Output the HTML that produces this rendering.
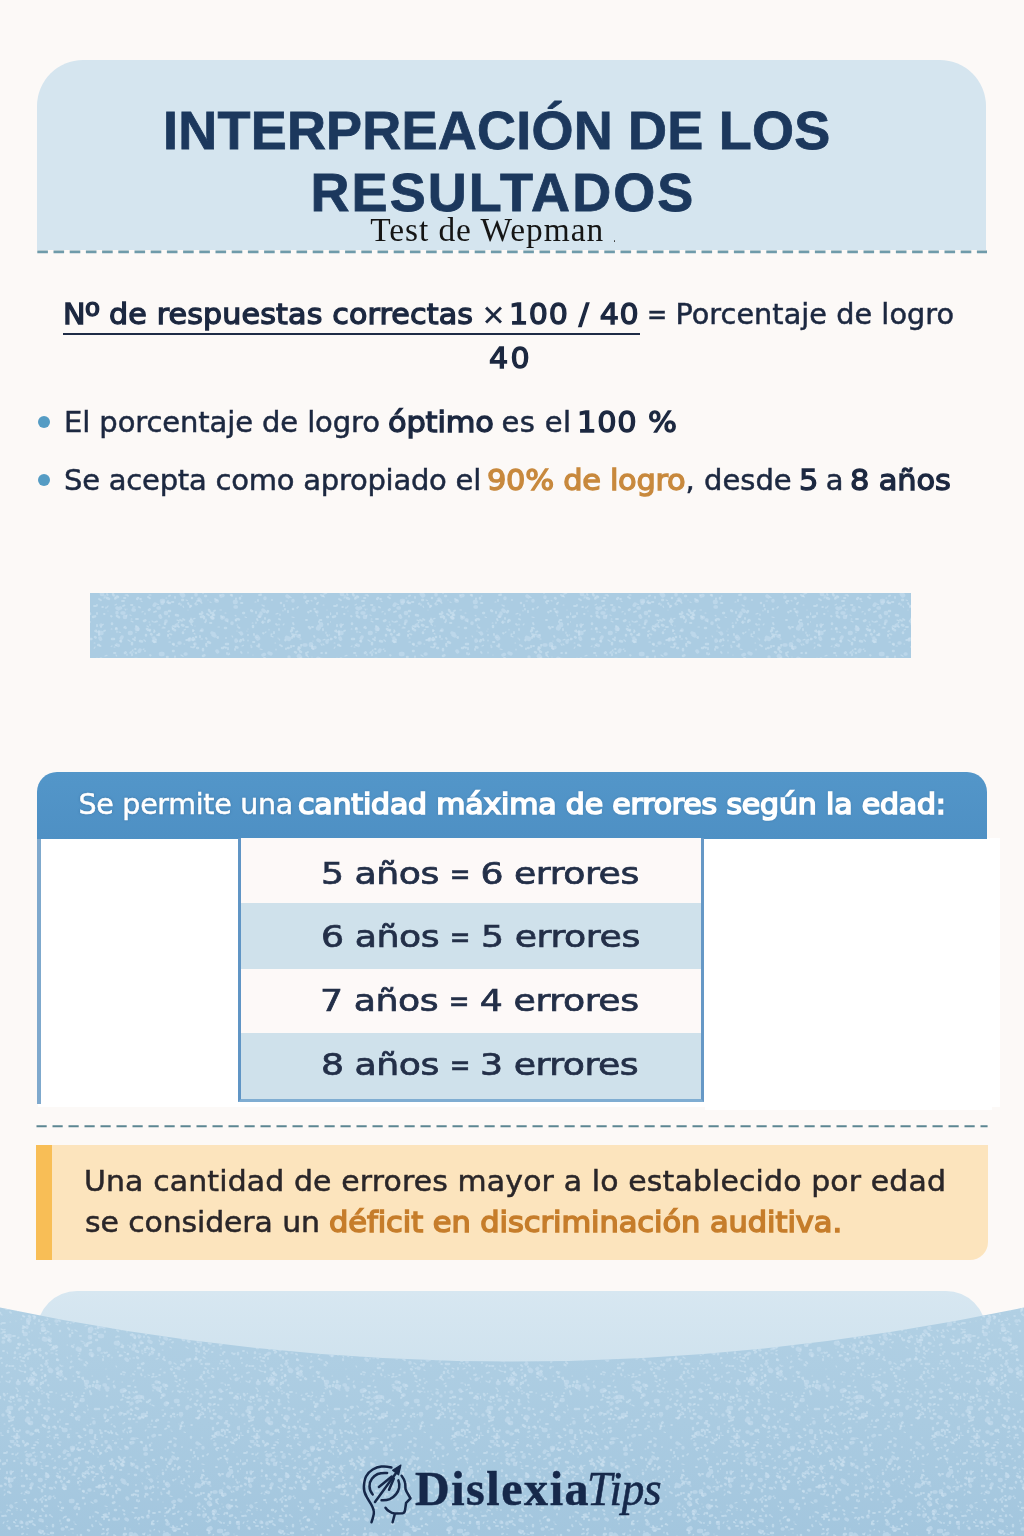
<!DOCTYPE html>
<html lang="es">
<head>
<meta charset="utf-8">
<title>Interpretación de los resultados - Test de Wepman</title>
<style>
*{margin:0;padding:0;box-sizing:border-box}
html,body{width:1024px;height:1536px;overflow:hidden}
body{background:#fcf9f7;position:relative;font-family:"DejaVu Sans","Liberation Sans",sans-serif;color:#1f2a44}
.abs{position:absolute;white-space:nowrap;display:block}
.ln{position:absolute;left:0;top:0;width:0;height:0;font-weight:normal;font-size:16px}
#hdr{left:37.3px;top:60.3px;width:948.7px;height:190px;background:#d5e5ef;border-radius:46px 46px 0 0}
.dot{width:12.4px;height:12.4px;border-radius:50%;background:#559cc4}
#band{left:90px;top:593px;width:820.5px;height:64.5px;background:#abcce2}
#thead{left:37px;top:772px;width:949.6px;height:67px;background:linear-gradient(#5396c9,#4e90c4);border-radius:20px 20px 0 0}
#tpanel{left:38px;top:838px;width:962px;height:269px;background:#ffffff}
#tpanel2{left:705px;top:1106px;width:287px;height:3.6px;background:#ffffff}
#tbar{left:36.6px;top:838px;width:4.2px;height:265.5px;background:#7fa9cd}
#tbl{left:237.7px;top:838px;width:466.7px;height:263.5px;border-left:3.3px solid #6095c5;border-right:3.4px solid #6698c6;border-bottom:3px solid #7fadd2;background:#fcf9f7}
.row{left:0;width:460px}
#note{left:36.1px;top:1145.2px;width:951.6px;height:114.8px;background:#fce4bd;border-left:16.2px solid #f8be56;border-radius:0 0 18px 0}
#fbox{left:37.3px;top:1290.7px;width:948.7px;height:120px;background:linear-gradient(#d7e7f1,#cfe2ee 75px);border-radius:40px 40px 0 0}
</style>
</head>
<body>
<div class="abs" id="hdr"></div>
<svg class="abs" style="left:0;top:0" width="1024" height="1536" viewBox="0 0 1024 1536">
  <defs>
    <pattern id="sp" width="240" height="240" patternUnits="userSpaceOnUse">
<path d="M233 1l2 0M35 16l0.6 0.9M73 167l0 -0.6M97 132l1 0.5M85 126l2 -0.6M180 191l2 0.5M227 22l0.6 0.9M165 73l2 0M143 198l1 1.3M50 236l-0.8 0M203 71l1 0.9M197 128l0 1.3M69 120l1.4 0.5M155 177l2 -0.6M202 209l1.4 -0.6M87 205l0.6 1.3M161 100l-0.8 0.9M239 47l-0.8 -0.6M49 172l0.6 0M229 205l2 0M71 123l-0.8 0.5M214 0l0 0.5M227 74l0.6 0M188 198l0 -0.6M64 37l0.6 0.5M170 147l1.4 0.9M84 164l2 0.9M1 133l1.4 0M71 199l0 0.5M202 53l1.4 0M44 192l0 0.9M133 158l1.4 0M137 28l1 0.9M104 75l-0.8 -0.6M4 82l-0.8 1.3M207 122l1 0M174 13l0 -0.6M223 169l2 -0.6M43 15l0 0M47 118l1 1.3M111 46l1.4 0M209 209l1 0M14 5l1 -0.6M216 118l1 0M200 107l1.4 0M236 39l0 1.3M4 130l1 -0.6M20 103l-0.8 1.3M15 168l0 1.3M69 90l0 0M103 26l2 -0.6M149 39l0 0.5M221 191l2 0.5M93 76l0 0.9M92 114l1.4 1.3M185 50l0.6 0M186 147l2 1.3M181 161l0.6 0.5M124 215l0 0.5M191 191l0 0M99 45l1.4 0M67 145l0.6 0M22 36l-0.8 0M214 237l2 0M226 112l0 0M82 34l1 1.3M204 125l0 0M23 115l0 0.9M20 196l0 0.5M233 47l2 -0.6M125 229l-0.8 1.3M152 185l2 -0.6M165 9l1 0M4 199l0.6 0.9M44 103l0.6 0M154 90l0.6 -0.6M131 176l0 0M120 9l1 0.5M217 136l0.6 1.3M51 149l0 0.9M132 199l0 -0.6M119 136l0 0.9M12 178l-0.8 0M10 198l1 1.3M16 110l1.4 0.9M0 182l-0.8 1.3M147 110l0 0.5M40 133l0.6 0.5M26 62l0.6 0.9M151 154l2 0M181 43l2 0.9M43 226l2 1.3M6 136l0.6 1.3M123 224l0 -0.6M157 159l1 -0.6M74 109l2 -0.6M212 236l0 -0.6M133 192l1.4 0.9M40 151l1 -0.6M40 22l1 0.5M139 60l0.6 1.3M173 29l2 0M142 153l1 0.9M47 228l0 0M197 142l1 0.5M0 233l1.4 0M41 122l1.4 -0.6M2 158l-0.8 0M14 3l2 0M110 105l2 -0.6M24 89l0 0M1 103l0.6 0M71 196l0 0.9M78 42l0.6 0M163 30l-0.8 0M70 22l0.6 0M165 109l2 0M88 145l-0.8 0M107 176l0 0.9M181 217l0 0M70 104l0 0M105 66l2 0.5M196 158l0 1.3M81 147l0 0M120 66l-0.8 0M54 237l2 0.5M109 8l0 0M166 29l0 1.3M239 178l2 0.5M42 173l1 0M35 178l0 0.5M152 205l2 0.9M36 2l-0.8 0M1 72l0 0M159 140l0.6 1.3M182 41l-0.8 0.9M114 125l2 0M134 145l1.4 0.5M47 132l1.4 0M7 65l0 0.5M171 230l0 0M185 128l1.4 0.9M223 67l0.6 0M184 226l0.6 0M72 35l2 0M227 10l1.4 -0.6M101 25l0 1.3M29 97l0 1.3M205 116l0 0.5M214 139l0.6 1.3M56 124l2 0.9M84 165l2 0.9M67 157l0.6 1.3M9 228l0 0.5M80 201l0.6 -0.6M55 215l0 -0.6M21 119l0.6 0M146 121l1 1.3M47 94l2 0.5M213 146l1.4 0M200 69l-0.8 -0.6M188 191l0 0.9M98 155l0 0.5M31 175l0.6 0.5M196 180l2 0M34 116l0.6 1.3M129 206l0 0M215 99l0 0.5M18 18l0 0M175 217l-0.8 -0.6M146 230l-0.8 0.9M49 151l0 0M78 236l2 0M184 170l1 0.5M87 225l1 0.9M237 235l0 0M142 150l0 1.3M179 224l0 0M60 80l0 1.3M177 87l0 -0.6M27 213l1.4 -0.6M60 31l0 1.3M19 89l0 0M237 106l0 1.3M80 160l2 0M157 122l0 -0.6M186 84l-0.8 0.5M101 153l1.4 0M189 142l0 0.5M106 169l0 0M190 21l0 1.3M208 54l2 1.3M59 2l2 0M203 66l-0.8 0.9M150 91l1 0M104 51l0.6 0.5M86 235l-0.8 0.5M12 32l1.4 -0.6M33 234l0.6 -0.6M197 141l0 -0.6M200 4l1 0.5M226 212l0 0M25 4l0.6 0.9M5 50l-0.8 0M33 179l2 0.9M92 176l0.6 0M48 105l0 0M79 45l1 0M29 39l1.4 0.5M98 17l0 0M196 154l0.6 0M173 28l-0.8 0.5M121 213l2 0M20 166l0.6 0.5M130 2l0.6 0.5M103 47l2 0M213 205l1.4 -0.6M225 18l1.4 1.3M226 190l1.4 -0.6M40 185l1 -0.6M138 164l0 0.9M43 57l-0.8 0.9M227 172l0 1.3M60 165l1.4 1.3M131 143l0 0M136 238l2 0.5M32 217l0.6 0.9M187 182l-0.8 -0.6M19 154l1.4 0M86 189l-0.8 -0.6M47 88l0 0M166 44l1 0.5M131 128l1.4 0.9M148 48l-0.8 0M189 46l0.6 0.9M72 130l0 0.9M214 74l0 0M238 111l-0.8 0.5M168 114l0 0.5M39 138l0 0M44 181l2 0M187 99l0 0M6 37l0.6 0.5M10 122l0.6 0M219 81l-0.8 0M220 69l0 -0.6M147 32l0.6 0M148 225l0 -0.6M209 136l1 0M214 177l0 0M210 46l1 0M116 148l0 0M26 3l2 0M200 139l0 0M145 177l0 -0.6M211 53l0 0.9M147 76l1.4 -0.6M71 156l0.6 0M21 171l2 0.5M117 101l0 0M213 137l1 1.3M13 228l1 0M190 71l1.4 0.5M134 180l-0.8 1.3M91 138l-0.8 -0.6M150 128l2 -0.6M149 73l0 0.5M27 38l0 1.3M77 95l0.6 0M148 95l0 0.9M87 27l2 0.9M222 64l0 0M220 163l0 0.9M130 17l1.4 0M96 7l1.4 0.5M163 62l0 0M170 1l1.4 0M27 88l1.4 0.5M42 26l-0.8 0M61 83l0 0.9M34 35l0 -0.6M87 119l0 0M198 67l-0.8 0.9M188 45l0 0M227 230l-0.8 -0.6M29 181l-0.8 1.3M233 204l0 1.3M69 32l1 0M28 223l2 0.9M171 208l2 0M16 121l0 0M12 225l1 0M27 94l0 0.5M145 93l-0.8 1.3M127 154l1.4 0M70 167l0 0M146 23l-0.8 -0.6M150 90l0 0M231 51l1 1.3M206 183l0 0M14 201l0 0.5M27 203l0 0.5M144 119l2 0M146 27l0 0.9M13 198l0.6 0M80 154l-0.8 -0.6M100 111l1 1.3M151 224l0 0.5M233 3l1.4 0.9M74 99l0 0M233 136l1 0.9M16 188l1.4 1.3M116 26l0 0.9M124 223l0.6 -0.6M110 38l2 -0.6M201 175l1.4 0M54 238l0.6 0.9M185 192l-0.8 0M213 172l0 -0.6M163 150l-0.8 0M75 130l2 1.3M39 190l-0.8 0.9M237 17l0 0M217 63l1.4 0.9M186 21l2 -0.6M43 82l0 -0.6M213 74l0.6 0M16 14l0 1.3M35 123l0 0.9M60 70l2 0.9M164 91l0 0.9M147 38l0 0M201 177l0 -0.6M202 24l2 0.5M2 115l-0.8 -0.6M227 130l1.4 1.3M179 107l0.6 -0.6M170 95l0 0.5M12 101l1.4 0M192 81l0.6 0M60 219l0 1.3M91 11l0 1.3M5 224l-0.8 0M200 140l2 0M7 152l0.6 1.3M37 22l-0.8 1.3M62 28l1.4 0.9M72 196l0.6 -0.6M21 97l-0.8 0M192 194l1 0.9M57 33l1.4 0.9M217 74l2 0.5M21 160l0 0.9M208 178l2 0M74 211l1.4 0.5M69 130l0 0M136 222l1.4 0M158 59l0 0.9M5 54l-0.8 1.3M84 180l0.6 1.3M171 125l0.6 -0.6M14 231l1 0.5M104 118l0 0.9M211 239l1 -0.6M201 112l0 0.5M185 72l1.4 -0.6M164 172l0 0.9M64 77l-0.8 1.3M89 128l0 1.3M34 110l0 -0.6M83 143l2 0M81 149l-0.8 0.9M177 215l0.6 -0.6M127 232l0.6 0.9M105 75l0.6 0M91 62l2 1.3M191 165l0 1.3M93 13l0.6 1.3M185 132l1.4 0M47 237l1.4 0.5M70 215l1.4 0.5M122 144l0 0.9M162 210l1.4 0M239 217l1.4 0M41 28l2 0.9M204 184l1.4 -0.6M105 41l-0.8 -0.6M95 72l0 0M47 160l1.4 0M81 237l1 0.5M100 186l0.6 -0.6M70 229l1 0M130 89l0 0M197 96l0.6 0.9M83 177l0.6 1.3M52 19l1 -0.6M76 233l2 0M74 82l0 0M51 8l1 0.5M237 114l0 0.5M100 190l-0.8 0M107 69l0 0M89 29l-0.8 0.9M14 236l0 0.9M181 227l-0.8 0.5M16 68l1.4 0.5M29 132l0.6 0M86 53l1.4 0M33 191l1.4 0.9M130 158l0 0.9M203 157l2 1.3M51 133l0 1.3M179 184l1 0.9M155 24l1.4 0.5M29 192l-0.8 0M139 137l0 1.3M135 171l0 0.5M59 37l1 1.3M221 183l2 0M46 86l1.4 0.5M193 18l0 -0.6M108 92l0 1.3M96 240l1.4 -0.6M233 51l1 0.9M144 152l2 0.5M78 156l0.6 -0.6M198 114l0.6 0.9M81 141l2 0.5M148 175l1.4 0.5M124 152l1.4 0.5M106 12l1.4 -0.6M118 141l0.6 0.5M15 205l0 -0.6M234 94l0 0M54 47l1.4 1.3M96 129l-0.8 -0.6M179 37l0 -0.6M41 191l1.4 0M116 80l2 0M175 181l2 0.9M227 126l0.6 0M9 221l0 0.9M203 209l0 0.5M103 38l1 -0.6M168 110l1 0.5M152 53l1.4 -0.6M34 102l-0.8 1.3M78 206l-0.8 0M199 162l1.4 0M139 84l0 -0.6M46 39l0 0.5M159 91l0.6 0.9M210 130l2 0.5M114 181l-0.8 1.3M237 204l0 1.3M196 189l2 0.9M132 72l2 0.9M170 87l2 0.5M223 48l0 0M25 12l1.4 -0.6M48 201l1 1.3M210 135l0.6 0.5M103 100l1.4 1.3M173 191l-0.8 0.9M56 193l0.6 0M123 95l2 0.5M176 116l-0.8 1.3M32 177l2 0M91 224l-0.8 0.5M237 194l2 0M53 148l2 0.9M181 41l1 0M43 137l1.4 0.5M162 54l-0.8 0.5M228 85l0 0.5M226 166l0.6 0M165 172l0 0.9M209 149l-0.8 0.9M92 218l2 0.5M230 178l1 1.3M168 222l1.4 0M172 231l0 0.5M79 172l1 0M186 56l0 0.9M139 61l-0.8 0.9M45 120l2 0.5M94 37l1.4 -0.6M76 5l0.6 0M174 134l1.4 0.9M32 200l1 0.9M41 110l0.6 0M6 181l1.4 0.9M103 156l0.6 0.9M202 138l1 0M17 159l0.6 0M128 145l0 0.5M174 163l2 1.3M7 71l0 0.9M72 192l0.6 0.9M112 157l0 0.9M122 182l0.6 0M87 188l0.6 0M43 59l1 0M170 56l2 0.5M113 215l1.4 0M184 179l0 -0.6M136 54l0 0M41 227l0 0M225 184l0.6 1.3M157 38l0 0M220 155l1 0.5M113 107l1.4 1.3M12 236l0 0.5M231 139l-0.8 0M74 145l0 -0.6M99 82l0 0M208 54l0.6 1.3M49 137l-0.8 0M15 63l2 -0.6M158 36l0 0M224 164l-0.8 -0.6M150 153l0 0M11 226l1 -0.6M94 51l0.6 0M232 237l1 1.3M24 106l0.6 0M207 172l2 1.3M197 136l-0.8 -0.6M73 93l0 0M184 92l0 0.9M222 8l-0.8 -0.6M135 20l1 0M106 221l-0.8 0.9M119 156l2 -0.6M33 78l1 0.5M223 117l0 0.9M62 195l-0.8 0.5M212 168l2 0.9M116 166l0.6 0.9M79 49l1.4 0M110 218l1.4 -0.6M234 12l-0.8 0M118 7l0 0M118 239l0 0M194 31l-0.8 0.9M161 52l0 1.3M37 16l0 0M124 174l0 0.9M7 194l0.6 -0.6M97 182l2 0M95 187l1.4 1.3M201 212l2 0.5M221 148l0 0.9M25 156l0.6 0.5M48 144l0.6 0M150 204l0.6 0M161 169l-0.8 0.5M228 172l-0.8 0M101 31l1.4 1.3M63 176l0 0.9M172 12l2 1.3M59 29l0.6 0M1 129l2 0.9M37 61l0 1.3M76 98l-0.8 0.5M112 224l-0.8 0.5M239 42l1.4 0M42 193l0 0.9M189 31l0 0.9M73 34l2 0.9M230 188l0.6 0M127 132l0 -0.6M17 70l0 0M19 170l2 1.3M27 140l2 1.3M144 117l1 -0.6M22 53l-0.8 0.5M123 231l0 -0.6M62 44l0 0M29 81l0 0.5M78 10l1.4 0M235 153l0 0.9M202 238l0 -0.6M152 148l-0.8 -0.6M56 151l1 -0.6M54 56l-0.8 0.5M128 34l1.4 0M8 81l-0.8 0.5M43 71l1 0.5M75 84l1 0.5M76 197l0.6 0M148 227l2 0M88 209l0 0.9M153 190l0 0.9M184 232l1.4 0.5M29 143l0 1.3M38 168l0 0.5M185 121l2 0.9M124 232l-0.8 0M65 209l0 0M18 13l-0.8 1.3M7 86l0 -0.6M14 82l1.4 0.9M204 68l1.4 1.3M1 235l2 0.5M40 187l1 1.3M196 8l1.4 0M25 54l-0.8 0M145 129l0 1.3M24 117l0 -0.6M42 125l-0.8 0M43 14l2 0M176 178l1 0M67 11l1.4 0.5M102 236l0 1.3M158 81l-0.8 0.5M173 167l-0.8 -0.6M180 226l2 0.5M61 166l2 0M41 204l0 0M130 210l1 0M125 197l1.4 0.9M117 206l1.4 1.3M119 111l1 1.3M222 133l-0.8 -0.6M156 159l0.6 0M175 168l0.6 0.5M190 134l0 0M32 145l1 0M47 131l2 0.9M170 94l0 0.9M213 95l0.6 -0.6M208 57l1 0M152 3l-0.8 0M41 125l1.4 0M32 130l0 0.9M58 66l0.6 0.5M27 139l1 0.9M206 81l2 1.3M51 153l2 0M88 226l0 0M202 110l0 -0.6M25 52l1.4 0.5M118 235l-0.8 -0.6M142 43l0.6 0.9M32 173l0.6 0M42 98l1 0.9M169 140l2 -0.6M105 33l0 0M51 76l1.4 0.9M158 47l0 0.9M38 47l2 1.3M73 176l0.6 0M55 20l0 1.3M176 39l-0.8 0.5" stroke="#cde2f1" stroke-opacity=".62" stroke-width="1.2" stroke-linecap="round" fill="none"/>
<path d="M178 191l2 1.3M127 202l2 0M216 27l1 0M24 60l1.4 0M44 208l1 0M163 49l1.4 0M143 170l0 0.5M42 61l0 1.3M202 109l1.4 0M229 29l0 -0.6M220 82l1.4 0.9M173 74l1 0M13 220l0 -0.6M189 26l1 0.5M132 121l0 0.5M225 73l-0.8 1.3M43 182l0 1.3M100 84l1.4 0.9M89 34l-0.8 -0.6M230 232l-0.8 0M148 34l1.4 0.9M104 54l0.6 -0.6M178 72l0.6 -0.6M29 149l1 0M66 224l2 0M238 124l2 0.9M165 229l1.4 -0.6M119 79l0 -0.6M195 16l0 0.5M225 90l0 0M61 180l-0.8 0M111 231l0 0.9M173 86l0.6 1.3M204 124l-0.8 0.9M26 196l2 0.5M8 215l0.6 0.5M58 238l0 0M16 238l1 0M174 65l1 0M164 41l0 0.9M45 56l0.6 0M90 150l1.4 0M33 116l2 0.5M75 181l-0.8 0M196 157l0 1.3M77 74l0 0.5M78 8l-0.8 1.3M7 12l0 0.5M62 228l0 0M30 48l0.6 0M41 170l1 -0.6M41 12l1.4 0M233 143l0 0M48 197l0.6 0.9M183 188l0.6 0.5M96 34l2 0M9 41l0 1.3M113 128l0 0M2 123l-0.8 0.9M236 196l1.4 0.9M129 192l0.6 0.9M232 3l1.4 0M43 157l0 1.3M93 26l1.4 0.9M150 154l-0.8 1.3M55 116l-0.8 0M36 71l-0.8 0.9M104 78l0 1.3M222 55l1.4 0.9M106 77l2 0M195 47l0.6 0.5M82 178l1 1.3M57 160l0 0M5 38l2 0.9M142 217l1.4 0.9M9 6l2 1.3M210 198l1 0M46 33l0.6 0.5M112 19l0.6 0.9M234 168l0 0.5M106 209l-0.8 0M169 2l2 0M121 147l2 0.5M143 94l1 0.5M14 21l0.6 0M82 196l1 0M151 59l0.6 0.9M47 220l0 1.3M224 83l0 0M135 121l0 0.9M153 174l0.6 0M79 23l0 0.5M41 59l-0.8 0.9M43 46l2 1.3M33 13l1.4 -0.6M170 24l-0.8 0M228 185l1 0M206 39l1.4 -0.6M71 89l2 0M38 231l1 1.3M116 112l0.6 0M92 155l0 1.3M125 6l2 1.3M6 109l2 0M23 145l0.6 0M44 131l1.4 -0.6M94 134l2 0M20 157l0.6 0M211 52l0.6 0M148 137l1.4 0.9M213 74l1 0.9M123 22l-0.8 0.9M71 167l-0.8 1.3M9 88l0.6 0.9M67 42l1 0M147 109l0.6 -0.6M139 121l0 0.9M23 116l1.4 0.5M230 117l2 1.3M201 143l0 -0.6M166 19l0 0.9M131 23l1.4 1.3M201 204l-0.8 1.3M218 19l0.6 0.5M235 97l1.4 -0.6M48 185l0.6 0.5M42 104l2 0.9M39 92l2 1.3M68 235l1 -0.6M204 42l2 -0.6M118 152l0 0M208 171l0 -0.6M203 214l0.6 0M0 29l0 0M151 10l1.4 0M27 200l-0.8 1.3M21 23l0.6 0.5M33 173l1.4 0M231 208l0.6 0M231 2l1 0.5M125 88l0 1.3M135 215l1 0.5M161 112l0 1.3M53 227l1.4 -0.6M207 107l0 0.5M213 71l1 0.5M86 146l1.4 0M178 89l2 0M201 53l0 1.3M25 181l-0.8 0M218 168l0 1.3M182 138l0 0.9M32 182l0 1.3M18 180l0 0.9M50 145l1.4 0M214 121l1 0.5M120 156l1.4 -0.6M32 8l2 0M237 142l1 1.3M101 54l2 0.5M225 231l0 1.3M173 107l0 0.5M124 18l1 -0.6M188 119l1 0M19 209l0 0.9M215 204l-0.8 0M205 168l1 0.5M210 42l-0.8 0M227 11l0.6 -0.6M103 89l0.6 0M199 152l0 -0.6M64 39l0.6 -0.6M27 212l0.6 0M16 80l0 0M44 218l1.4 1.3M190 52l2 1.3M141 174l0.6 1.3M206 151l1 0M54 214l1 0.9M236 78l-0.8 -0.6M68 128l1.4 1.3M210 211l0 0.5M227 237l-0.8 0M162 195l1.4 0.9M103 159l0 1.3M98 10l0.6 1.3M238 31l0 0.5M167 53l2 0.9M148 117l1.4 0M64 49l2 0M102 94l2 -0.6M14 217l-0.8 0.5M29 103l-0.8 0.5M62 109l-0.8 0.9M60 62l0.6 0.5M46 161l0.6 0M221 235l2 0.9M89 11l0.6 -0.6M237 96l0 0.9M124 191l2 -0.6M84 193l0 0M121 200l1.4 -0.6M45 176l0.6 -0.6M149 149l0 -0.6M168 7l0 0.9M224 43l0.6 0.9M232 98l0 0.5M141 143l2 0M34 172l0 1.3M202 179l1 0.9M217 62l-0.8 0M13 136l2 0M216 9l1 1.3M41 165l1.4 1.3M114 95l1.4 0.9M187 93l0.6 1.3M10 166l-0.8 0M185 183l0 0M95 235l0.6 0M214 210l-0.8 0.5M120 155l2 0.5M33 84l2 1.3M167 26l0.6 1.3M22 161l2 0.5M233 36l0 1.3M164 157l0 0.5M124 74l0.6 0.5M166 189l0 0M197 218l2 0M16 86l2 0M37 180l0 0.5M154 227l2 0M58 4l2 1.3M145 106l-0.8 0.5M60 227l0 -0.6M57 177l1 0.5M196 151l0 0M138 122l-0.8 0.5M54 146l-0.8 1.3M144 106l-0.8 1.3M38 240l0.6 1.3M6 76l-0.8 -0.6M116 233l0.6 1.3M7 32l0 1.3M135 68l2 0M108 179l1 0M120 129l1.4 0.5M17 231l1.4 0.5M212 152l0.6 0M79 159l0.6 0M201 160l-0.8 0.5M128 122l1.4 0M78 42l0 1.3M146 6l0 -0.6M28 158l0 0.9M43 91l0 0.5M56 154l1 0.5M25 155l1.4 0M140 218l-0.8 -0.6M158 42l0 0M42 215l0 0M203 30l0.6 1.3M46 180l0 0M10 181l-0.8 1.3M46 26l2 0M128 45l-0.8 -0.6M7 173l2 -0.6M81 108l0 -0.6M9 201l2 0.9M58 222l0 -0.6M218 131l-0.8 -0.6M42 177l0 1.3M134 219l-0.8 0M235 0l1.4 0M121 174l0.6 0M232 60l-0.8 0M163 159l2 1.3M79 220l0 0M18 138l0.6 -0.6M25 165l0.6 1.3M173 40l0.6 0.5M84 212l1 0.5M18 191l0 0M123 70l1.4 0.9M59 120l1 1.3M21 70l0 0M213 119l0.6 0.5M184 39l0 1.3M197 118l0 0M46 133l-0.8 0.5M3 132l2 0M22 82l0.6 0.9M239 238l2 0M160 137l0 0.5M120 30l1.4 0M176 109l-0.8 -0.6M42 69l0.6 1.3M113 0l0 0M171 97l1.4 0.5M211 65l-0.8 0M1 158l-0.8 0.5M10 112l1 0.9M91 98l2 0.9M3 151l1 0M133 174l1 0.5M12 74l0 0M116 51l0.6 0M169 105l0 0M34 5l1.4 0M231 213l0.6 0.9M55 58l0 0M128 186l2 0M142 2l0 0.9M103 37l0 1.3M105 231l1 0M65 77l1 -0.6M152 177l1.4 -0.6M216 100l0 0M182 112l0 -0.6M186 31l1 0.9M57 173l1.4 0.5M107 94l0 0.5M90 27l2 0.9M173 142l-0.8 0.5M49 14l1 0.5M205 217l0 0M102 77l2 0M169 71l0 -0.6M55 147l1.4 0.9M164 119l2 0M153 46l0.6 1.3M144 137l0 -0.6M191 136l1.4 1.3M100 230l0.6 0.9M223 153l0 0.9M222 34l1 0M180 107l1.4 1.3M223 94l1 1.3M237 42l0.6 0.9M65 96l0 1.3M70 100l1.4 0M236 66l1.4 0.9M209 54l0.6 0.9M71 162l0.6 -0.6M39 97l0.6 0M178 28l0 1.3M204 153l1 0.9M61 111l0 0.5M112 106l0 0.5M206 74l0 0.9M10 53l0.6 0M202 164l-0.8 0M23 126l2 1.3M116 28l-0.8 1.3M115 97l0 -0.6M234 122l1 0M55 107l0 0.9M217 102l1 0M179 123l0 1.3M29 123l0 1.3M207 90l2 0.9M65 29l2 -0.6M230 27l1.4 0M173 30l-0.8 -0.6M97 119l0 1.3M79 3l1 -0.6M204 53l0 0M233 209l0.6 0.9M174 238l2 0.9M234 198l0.6 0M145 56l0 0.9M141 201l-0.8 -0.6M111 9l0.6 0.9M100 13l0 1.3M153 102l2 0.9M147 212l0 1.3M135 187l0.6 0M184 112l2 0.5M26 35l0.6 0M159 235l2 0M130 147l0 -0.6M24 209l0 0M225 234l0 0M197 139l0 0M110 43l0 1.3M82 9l1.4 0M216 233l-0.8 0M91 114l-0.8 0M191 199l-0.8 0.9M232 153l2 1.3M20 230l0 0.5M135 78l1 -0.6M160 175l-0.8 0M42 131l2 0M96 81l0 0M92 85l0.6 1.3M106 10l-0.8 0.9M188 112l0 0M48 232l1.4 -0.6M117 130l1.4 1.3M85 4l0 0.9M148 237l0 0.9M153 73l2 0M140 201l1.4 0.5M51 6l-0.8 0M143 109l1.4 0M216 234l0 -0.6M100 98l1 0.5M202 35l1.4 0M101 124l1.4 0M195 144l0 0M176 97l2 0.9M196 148l0 0.9M12 166l1.4 0M208 77l0.6 0.9M162 100l2 0M182 7l0 0M194 12l0 1.3M152 82l0 0.9M237 82l1 0M50 192l2 0M7 20l0 0.9M97 47l-0.8 0M64 19l2 -0.6M14 158l1 -0.6M122 239l0 0M23 158l1.4 0M197 151l0 0.5M166 122l1 1.3M229 165l1 0.9M123 172l2 0.5M202 44l0 0.9M66 47l0 -0.6M160 191l1 1.3M196 218l1.4 0.5M235 175l0.6 0M222 53l0 0.5M84 52l-0.8 -0.6M14 38l1 -0.6M165 76l0 0M150 95l0 0M225 16l-0.8 0M205 209l0 1.3M175 25l0 0.9M105 132l0 -0.6M163 216l0.6 0M79 38l-0.8 0.5M209 134l0 0.5M159 72l1 0M137 60l0 0.9M202 41l2 0.5M105 153l-0.8 -0.6M57 174l1.4 -0.6M9 38l0 1.3M45 45l0 -0.6M8 70l2 0.5M161 198l0.6 -0.6M178 186l-0.8 0M205 192l0 0.5M90 114l0 0.5M174 91l1.4 -0.6M152 221l0 -0.6M208 56l1 0.5M10 221l2 -0.6M216 60l0 0.5M123 195l0 1.3M18 144l1.4 1.3M226 221l1.4 0M178 112l0 1.3M138 55l0 1.3M161 187l0 0.5M11 34l0 -0.6M131 209l1.4 1.3M217 8l1.4 0M186 84l1.4 0.9M114 226l1 0.9M39 120l0 1.3M26 205l-0.8 0M90 191l0 0.9M215 234l0 0.5M224 118l0 -0.6M153 104l2 0M53 209l0.6 0M68 196l1 0M2 163l0 0M67 123l1 -0.6M100 113l0.6 0.5M40 76l1 0M109 73l0 0.9M139 146l0 -0.6M234 175l2 -0.6M202 207l0 0M35 231l1.4 0.5M7 165l-0.8 1.3M83 33l2 0.9M121 120l1 0.5M224 152l0.6 0M198 18l0 1.3M218 205l0.6 0M116 45l0.6 0.9M14 82l0 0M48 167l0 -0.6M181 165l0.6 -0.6M191 207l0 0M162 98l2 1.3M90 77l0 0.9M2 177l0 -0.6M221 18l-0.8 0M208 208l0 -0.6M191 136l1 0.9M197 149l0 0M155 101l0.6 0M196 56l0 -0.6M221 161l1.4 0M49 124l0.6 0.5M80 41l1.4 0.5M180 135l0 1.3M223 130l0.6 1.3M3 123l2 0M66 194l1 -0.6M80 136l1 0M108 232l1.4 0.9M116 137l1.4 -0.6M86 114l2 0M9 221l0 0M105 153l2 -0.6M50 75l0 0M128 44l0 0.5M131 96l0 0.5M197 201l0.6 -0.6M189 108l-0.8 0.5M207 107l0.6 0M166 68l-0.8 0M124 214l2 0M202 35l2 0.5M228 230l-0.8 0M96 72l2 0.9M174 74l1 -0.6M85 145l0 0.5M208 14l-0.8 0.9M37 2l1 0.9M55 102l0 0.5M34 150l2 -0.6M117 21l2 1.3M201 145l-0.8 0.9M86 162l1.4 1.3M163 142l1 0.5M116 52l0.6 1.3M13 198l1 -0.6M13 14l-0.8 0M136 45l0 0M4 13l2 0M167 203l1.4 0M189 36l0 0.9M170 69l0 0.9M74 202l0 0.9M218 59l-0.8 0.5M62 114l1.4 1.3M134 54l2 0.9M107 8l2 -0.6M85 64l0 -0.6M192 225l-0.8 0M17 1l0.6 0.9M27 178l0 1.3M236 110l1 0M78 177l1.4 0M153 81l0.6 0M44 94l0.6 -0.6M72 133l0.6 0M75 207l1 0M180 229l0.6 -0.6M22 94l1 -0.6M2 76l2 0M40 114l0 0" stroke="#cde2f1" stroke-opacity=".62" stroke-width="1.8" stroke-linecap="round" fill="none"/>
<path d="M17 148l1 0M19 144l1 0M234 109l1 1.3M115 70l1 0M159 182l0.6 0.9M67 117l2 1.3M230 82l0 0.9M114 186l0.6 1.3M237 235l0 0M131 231l-0.8 0.9M202 114l1.4 1.3M167 104l0.6 1.3M219 34l1 1.3M190 159l0 0.5M235 240l1.4 -0.6M32 70l1 0M36 152l-0.8 0.5M207 109l1 0M54 28l1.4 -0.6M34 150l0.6 0M0 113l-0.8 -0.6M37 188l0.6 0.5M138 158l-0.8 -0.6M42 50l0 1.3M201 136l0 1.3M155 119l2 0M75 31l0 -0.6M28 76l0 -0.6M101 13l0 0M195 159l2 0M201 177l-0.8 0.9M236 60l0 0M79 18l1 0M230 76l2 -0.6M114 24l0 1.3M222 230l1.4 0M4 194l0.6 1.3M189 138l0.6 -0.6M205 59l1 0.5M5 135l1 0.9M101 233l0.6 0M90 186l0 0.5M134 105l0 1.3M142 164l1.4 -0.6M63 199l1.4 0.5M147 147l0 0.9M29 181l0.6 -0.6M27 23l2 1.3M99 209l0 0M3 138l1.4 0M121 104l0.6 0M89 143l2 -0.6M174 214l-0.8 0M150 200l-0.8 0.9M204 148l0 1.3M93 40l0 -0.6M52 97l1 0M206 164l2 0M49 140l1.4 1.3M11 197l2 0M213 117l0.6 0M108 220l-0.8 0.9M209 164l0 0M111 24l2 -0.6M61 41l0.6 0.5M113 56l0 1.3M181 226l0 -0.6M142 77l1 0.5M147 202l1 0M150 5l0 0.5M91 194l0 -0.6M222 136l2 0.9M156 130l2 0M35 117l-0.8 1.3M230 193l2 0M106 44l0 0M141 2l0 0M58 160l-0.8 -0.6M238 24l-0.8 0M91 99l-0.8 0.5M103 47l0 -0.6M138 168l2 0M208 134l1 1.3M77 64l0.6 0M151 47l-0.8 1.3M83 58l0.6 0M10 212l0 1.3M63 48l1.4 0.9M56 42l0 0.5M159 154l0 1.3M139 78l-0.8 1.3M30 82l2 -0.6M93 185l0 0.9M200 140l2 0M92 32l1.4 0.5M152 149l2 0.9M109 80l0 0M103 118l1 -0.6M81 95l0 0M124 94l2 0M109 155l-0.8 0.9M34 174l2 0.9M73 121l0.6 0.9M174 173l0 0M95 100l0 1.3M135 138l0 -0.6M66 179l-0.8 -0.6M203 43l1 0.5M46 153l0.6 0.5M128 122l-0.8 1.3M46 76l0 -0.6M9 139l-0.8 1.3M79 10l1 0M166 80l1.4 1.3M23 131l0 0.9M103 45l1 0.9M213 236l1.4 0.5M107 196l0 0M61 212l1.4 -0.6M72 214l0.6 1.3M220 199l1.4 0M70 135l0 1.3M136 192l0.6 0M132 55l1 0M116 3l-0.8 0M197 107l1.4 0.9M45 175l0 0.9M136 208l2 0.9M128 198l1.4 -0.6M57 36l1.4 0.9M235 97l-0.8 0M62 109l0 0.9M234 143l2 -0.6M217 120l2 1.3M40 149l-0.8 0.5M151 131l-0.8 0M56 146l1 0.9M161 144l2 0M121 24l2 1.3M17 195l0 1.3M149 71l0 0.5M136 151l2 0.9M131 214l0 0M93 7l-0.8 0M68 80l1 0M210 80l-0.8 0.9M240 236l2 -0.6M41 104l1.4 0.5M214 214l1.4 0M100 28l1.4 1.3M102 5l0 0M129 228l1.4 0M136 51l2 0M212 176l1 0.9M59 17l0.6 -0.6M69 41l0 0.9M214 236l-0.8 0.5M200 215l0.6 -0.6M26 5l-0.8 0.5M191 237l0 0.5M237 116l1 -0.6M86 22l2 0.5M28 4l-0.8 0M123 21l1 0.9M130 219l-0.8 0M168 72l-0.8 0M76 218l0.6 1.3M165 214l0 0M0 21l0 -0.6M166 185l1 0.9M76 205l-0.8 1.3M143 118l1.4 0.9M77 120l2 0.9M101 27l1.4 1.3M3 24l2 -0.6M227 73l0 0M118 49l2 0.9M60 131l0 0M108 210l0 0M79 68l0 0.9M22 46l2 0M0 197l0 0.9M49 227l0 0.9M173 68l1 -0.6M233 129l1.4 0M56 235l1.4 0M15 153l0 -0.6M35 34l0.6 0.9M157 220l-0.8 0.9M148 26l1 0.5M94 182l0 0M0 46l1.4 0M123 146l-0.8 0.5M47 194l1.4 0.9M140 103l2 1.3M130 122l0.6 1.3M232 140l1.4 0M51 93l2 0M211 218l1.4 0.5M186 100l-0.8 -0.6M152 84l1.4 0M36 102l0.6 0M182 86l0 0M17 5l2 0.9M87 144l1 -0.6M48 5l-0.8 0.9M182 130l0 0M232 66l0 0M163 33l0 0.9M213 197l2 0M220 145l1.4 -0.6M176 176l-0.8 0M46 60l0 0M72 146l1 0.9M83 51l0.6 0M146 54l1.4 0.5M67 87l-0.8 0M76 204l1.4 0M195 204l1.4 0.9M122 114l-0.8 1.3M45 66l2 0M199 211l-0.8 0M31 48l0 0.5M97 140l-0.8 0M154 20l-0.8 0M181 79l0.6 -0.6M203 16l0 0M180 180l0 0M122 103l2 0M178 18l-0.8 1.3M188 141l1.4 0.5M198 55l0.6 0M111 207l0.6 0.9M22 31l0 -0.6M123 121l0 0M5 44l0.6 0.5M32 109l-0.8 0M208 100l0 -0.6M194 120l0.6 0.5M238 153l0 1.3M110 21l1.4 0M26 36l0.6 0M22 102l0.6 -0.6M128 154l0 0M83 118l-0.8 0.5M41 183l0 0.5M14 229l0 0.5M203 134l1.4 1.3M53 85l0 1.3M204 148l0 -0.6M169 52l0 -0.6M191 104l0 1.3M218 223l-0.8 0.5M157 220l1 0M108 55l-0.8 0M50 48l2 0.5M83 36l2 1.3M209 204l1.4 0.5M17 234l0 1.3M147 112l2 -0.6M222 231l0 -0.6M98 128l0 -0.6M179 27l0.6 0.5M27 202l0.6 0.5M97 181l0 0.9M35 209l0 0M105 218l0 0M144 118l0 -0.6M40 155l0.6 0.5M108 89l-0.8 0.9M68 237l1 0M225 5l0.6 0.5M99 46l0 0.5M204 172l0 0.9M61 171l0.6 0.5M199 217l-0.8 1.3M162 18l-0.8 -0.6M184 164l-0.8 1.3M152 152l1 0.5M146 133l0 0.9M171 216l0 0.5M8 231l0 0.9M9 52l-0.8 0M72 113l0.6 0M177 116l0.6 0.5M209 93l0.6 -0.6M114 117l0 0M88 90l1 0.5M79 236l1 1.3M43 225l2 1.3M23 1l0.6 1.3M95 237l0 1.3M32 102l0 0M227 113l0 0.5M191 10l0 0M171 169l0.6 0.5M184 117l1.4 0.9M113 63l1.4 -0.6M94 103l0.6 0.5M146 27l0.6 -0.6M184 140l-0.8 0M211 59l-0.8 -0.6M179 205l-0.8 0M228 105l1.4 1.3M35 60l0.6 -0.6M77 172l1.4 1.3M22 87l0 0M112 207l0.6 0M145 149l0 0.9M202 37l-0.8 1.3M29 116l1 0.9M182 223l0.6 -0.6M169 133l2 1.3M84 229l1 0.9M112 233l0 0M36 230l2 0M23 128l1 -0.6M50 109l0 0.9M62 68l1 0M225 223l2 0.5M121 20l2 0M39 200l0 0.9M95 209l2 0M119 17l0.6 1.3M209 143l1.4 0.5M58 37l2 0M146 216l0.6 0M194 100l0 0.9M25 172l0 0M135 35l1 0M168 226l1 0.5M229 225l-0.8 1.3M131 135l1.4 -0.6M213 228l0 1.3M206 186l0 0M55 227l0.6 1.3M198 75l1.4 0M238 141l1.4 -0.6" stroke="#cde2f1" stroke-opacity=".62" stroke-width="2.5" stroke-linecap="round" fill="none"/>
<path d="M208 43l1 0.5M27 232l1 0M196 101l2 0.9M215 4l0 0.5M131 3l2 -0.6M133 149l0.6 0M170 163l0 -0.6M228 47l1.4 0.9M74 108l2 0M157 182l-0.8 0M57 169l0.6 -0.6M105 215l0 0.9M10 141l0 -0.6M27 15l1.4 0.9M173 17l1.4 1.3M112 37l0 0.5M122 25l1 0M68 80l0.6 0M126 79l1.4 0.9M237 48l0 1.3M220 190l1 1.3M135 198l1.4 -0.6M178 168l1 0.5M70 23l0.6 1.3M21 82l0 0.5M99 47l1.4 -0.6M30 15l0.6 0M226 94l2 -0.6M96 61l-0.8 0M15 237l1 0.9M114 79l0.6 0M7 211l0 0M103 126l1 1.3M149 141l2 1.3M224 115l0 0M132 239l2 0M223 55l2 -0.6M134 145l0.6 1.3M31 234l0.6 0M106 2l0 -0.6M36 212l0.6 0M46 164l0.6 -0.6M40 91l2 0.9M137 202l1 -0.6M126 8l1.4 0M164 135l1.4 0M76 28l0 0.5M141 114l1.4 -0.6M50 57l-0.8 1.3M126 159l1.4 1.3M141 116l0 0M173 62l1.4 -0.6M43 17l1.4 0M9 88l0 0M32 20l2 0M132 25l1.4 -0.6M123 42l2 0.9M76 67l-0.8 0.9M112 105l0 -0.6M186 114l2 0M227 161l0 0.9M188 207l0 -0.6M139 136l0.6 0.5M28 154l1.4 -0.6M27 83l0 0.9M3 142l0.6 0M211 192l0.6 0M236 214l0 0M27 20l0 -0.6M187 207l0 1.3M169 23l1 0M87 32l-0.8 0.5M177 120l-0.8 0M131 204l1 -0.6M227 19l0 0M154 187l0.6 0.5M189 74l1 0M10 217l1 0.9M105 75l1 0M153 236l1.4 -0.6M179 60l2 0.9M204 75l0 1.3M167 84l1.4 0M171 20l0 0.9M21 208l1.4 -0.6M120 214l0.6 -0.6M236 197l1.4 1.3M68 108l1.4 -0.6M146 47l0 1.3M141 142l0 0.9M139 218l1 0M237 179l-0.8 0.5M73 9l-0.8 1.3M197 3l1.4 0.9M122 40l2 0.9M201 196l0 0M203 8l0 -0.6M205 131l1 1.3M27 127l0 0.5M145 14l1.4 0M49 209l0 -0.6M220 114l1.4 0.5M151 40l0.6 0.9M39 204l0 0M56 121l1 0M148 76l0 0.9M239 140l0 0M10 45l0.6 1.3M89 50l1 0M175 5l0 0.5M214 52l2 0M62 102l2 -0.6M50 139l-0.8 0.9M86 185l1 1.3M239 88l0 -0.6M142 197l0.6 0M105 51l0 0M27 52l1.4 0.5M186 121l0 -0.6M28 122l0 0.9M31 184l2 0M11 32l0 0M164 185l1 0.9M197 193l0.6 0M165 138l1.4 0.9M214 78l1 0.5M48 36l0 0.5M65 11l-0.8 1.3M32 44l-0.8 1.3M40 80l2 0.5M64 45l0 1.3M3 215l0 0M31 169l0.6 0M8 211l1 1.3M195 112l0 0M199 64l0 0M79 217l-0.8 0M107 190l0.6 0M142 30l0 0.5M18 237l0.6 0M68 15l1.4 0M137 27l-0.8 0M109 6l1 1.3M214 118l1.4 1.3M106 188l2 0M104 185l1.4 0M230 66l0 0M209 128l0.6 -0.6M219 217l2 0.9M127 58l0.6 0.9M94 222l0 0.9M134 136l0.6 0.9M188 160l-0.8 0M199 141l0 0.5M19 200l1.4 0M53 148l0 0.5M43 125l0 0M63 89l-0.8 0M128 212l0 0M11 66l0.6 0.9M163 195l1 0" stroke="#cde2f1" stroke-opacity=".5" stroke-width="3.4" stroke-linecap="round" fill="none"/>
<path d="M40 40l0.6 0M214 72l0.6 -0.6M230 124l-0.8 0M91 231l0 0.9M131 94l0 1.3M231 32l0 -0.6M181 214l0 0.5M154 105l-0.8 1.3M174 89l1 0.5M135 95l1 0.9M31 179l1.4 0.9M25 134l0.6 0M149 126l1.4 1.3M44 139l1.4 0.5M158 113l-0.8 1.3M119 101l1 0.9M46 217l1.4 0.5M167 44l1 1.3M218 233l0 0.9M239 228l0 0M99 126l2 0M50 170l1 0.9M143 215l1.4 0M150 118l1 0M221 52l0 -0.6M47 36l0 -0.6M9 208l2 0M35 24l0 0M43 129l0.6 0M122 191l2 -0.6M198 106l0.6 -0.6M82 200l0.6 0M86 182l1 0M229 34l-0.8 1.3M91 154l1 0.9M28 219l-0.8 1.3M106 112l0 0M64 230l1.4 0M99 149l0 0.5M209 89l1.4 -0.6M10 40l1.4 0M30 223l1 0M90 131l0 0M143 216l0 0M9 136l0.6 0M29 120l-0.8 0M158 189l1 0.5M59 173l1.4 1.3M116 143l2 0.5M97 186l1.4 1.3M92 1l1 1.3M136 125l1 0M90 137l0 0.5M165 95l2 -0.6M219 91l2 0M91 129l-0.8 0.5M71 61l1.4 0M228 66l1 1.3M238 83l0.6 0M18 183l0.6 0M12 1l0 -0.6M138 197l2 0M209 63l1 1.3M100 136l2 0M72 8l1 0M145 9l0.6 0M197 45l2 0.9M78 149l1.4 0.9M176 201l1.4 0M76 20l0 0M165 110l0 -0.6M166 204l0.6 -0.6" stroke="#cde2f1" stroke-opacity=".5" stroke-width="4.6" stroke-linecap="round" fill="none"/>
    </pattern>
  </defs>
  <line x1="37.3" y1="251.9" x2="987" y2="251.9" stroke="#6f9baa" stroke-width="2.8" stroke-dasharray="10.6 5.6"/>
  <line x1="36.5" y1="1126.3" x2="987.6" y2="1126.3" stroke="#5c8692" stroke-width="2.1" stroke-dasharray="10.2 5.8"/>
</svg>
<div class="abs" style="left:63.3px;top:332.5px;width:576.8px;height:2.6px;background:#1f2c46"></div>
<div class="abs" style="left:613.8px;top:240.2px;width:1.6px;height:1.6px;border-radius:50%;background:#3a3a3a"></div>
<div class="abs dot" style="left:38.1px;top:416.1px"></div>
<div class="abs dot" style="left:38.1px;top:473.7px"></div>

<div class="abs" id="band"></div>
<svg class="abs" style="left:90px;top:593px" width="820.5" height="64.5"><rect width="821" height="65" fill="url(#sp)"/></svg>

<div class="abs" id="tpanel"></div>
<div class="abs" id="tpanel2"></div>
<div class="abs" id="tbar"></div>
<div class="abs" id="thead"></div>
<div class="abs" id="tbl">
  <div class="abs row" style="top:0;height:64.8px;background:#fdf9f8"></div>
  <div class="abs row" style="top:64.8px;height:66.2px;background:#cfe1eb"></div>
  <div class="abs row" style="top:131px;height:64.4px;background:#fdf9f8"></div>
  <div class="abs row" style="top:195.4px;height:65.2px;background:#cfe1eb"></div>
</div>

<div class="abs" id="note"></div>

<div class="abs" id="fbox"></div>
<svg class="abs" id="wave" style="left:0;top:1290px" width="1024" height="246" viewBox="0 1290 1024 246">
  <defs><linearGradient id="wg" x1="0" y1="0" x2="0" y2="1"><stop offset="0" stop-color="#b1d0e4"/><stop offset="1" stop-color="#a3c6de"/></linearGradient></defs>
  <path id="wv" d="M0 1307.5 Q 512 1415.5 1024 1307.5 L1024 1536 L0 1536 Z" fill="url(#wg)"/>
  <path d="M0 1307.5 Q 512 1415.5 1024 1307.5 L1024 1536 L0 1536 Z" fill="url(#sp)"/>
  <g fill="none" stroke="#16284a" stroke-width="2.5" stroke-linecap="round" stroke-linejoin="round">
    <path d="M371.5 1522.2 C372.6 1518 374.6 1515 373.8 1511 C373 1506 369.5 1502 366.8 1497.2 C364.6 1493.5 363.6 1490 363.9 1486.3 C364.2 1482.5 364.5 1479.5 366 1476.5 C367.6 1473.4 369.8 1471.2 372.7 1469.5 C375.4 1467.9 378 1467 381.3 1466.6 C384.6 1466.2 388 1466.6 391.4 1467.5"/>
    <path d="M401.6 1475.7 C403.4 1478 404.6 1480.4 405.1 1483.1 C405.6 1485.4 405.2 1487.6 405.6 1489.4 C406.6 1492.6 409 1495.4 410.5 1498.4 L406.1 1502.8 L405.1 1509.7 C404.9 1511.6 404.4 1513.2 402.6 1513.3 L394.9 1513.4 C392.6 1513.4 390.8 1512.6 389.1 1511.3 C387.6 1510.2 386.4 1509 385.5 1507.7"/>
    <path d="M394.7 1514.4 L392.6 1522.2"/>
    <path d="M372.7 1494.5 C370.6 1492 369.5 1489.4 369.5 1486.3 C369.5 1483.4 370.2 1481 371.9 1478.8 C373.5 1476.7 375.3 1475.1 377.7 1474 C380.5 1473 383.6 1472.8 387.1 1473"/>
    <path d="M398.4 1480.4 C399.4 1482.8 399.6 1485.2 399.1 1487.8 C398.7 1490.2 397.7 1492.2 396.1 1494.1 C394.4 1496.2 392.4 1497.9 389.8 1499.1 C387.4 1500.1 384.6 1500.5 381.6 1500.3"/>
    <path d="M375 1501.9 L396.1 1473"/>
    <path d="M378.9 1487 L391.8 1476.5"/>
    <path d="M389.1 1489.8 L393.8 1478.4"/>
    <path d="M400.9 1465 L392.6 1470.2 L398.6 1474.9 Z" fill="#16284a" stroke-width="1.2"/>
  </g>
</svg>
<h1 class="ln">
  <span class="abs" id="l1" style="left:163.0px;top:95.3px;color:#1c385d;font-family:'Liberation Sans','DejaVu Sans',sans-serif;font-size:54px;line-height:1.3;font-weight:bold;letter-spacing:0.22px;-webkit-text-stroke:0.8px currentColor;transform:scaleX(1.0);transform-origin:0 0;">INTERPREACIÓN DE LOS</span>
  <span class="abs" id="l2" style="left:310.4px;top:157.3px;color:#1c385d;font-family:'Liberation Sans','DejaVu Sans',sans-serif;font-size:54px;line-height:1.3;font-weight:bold;letter-spacing:2.11px;-webkit-text-stroke:0.8px currentColor;transform:scaleX(1.0);transform-origin:0 0;">RESULTADOS</span>
</h1>
<p class="ln">
  <span class="abs" id="sub" style="left:370.2px;top:208.1px;color:#151515;font-family:'Liberation Serif','DejaVu Serif',serif;font-size:33.4px;line-height:1.3;letter-spacing:0.95px;">Test de Wepman</span>
</p>
<p class="ln">
  <span class="abs" id="f1a" style="left:63.4px;top:296.3px;color:#1c2840;font-family:'DejaVu Sans','Liberation Sans',sans-serif;font-size:28.7px;line-height:1.3;letter-spacing:0.14px;-webkit-text-stroke:1.3px currentColor;transform:scaleX(1.05);transform-origin:0 0;">N<span style="font-family:'Liberation Sans',sans-serif;font-size:1.22em;line-height:0;position:relative;top:2.5px">º</span> de respuestas correctas</span>
  <span class="abs" id="f1x" style="left:481.4px;top:296.3px;color:#1c2840;font-family:'DejaVu Sans','Liberation Sans',sans-serif;font-size:28.7px;line-height:1.3;letter-spacing:0.00px;-webkit-text-stroke:0.5px currentColor;">×</span>
  <span class="abs" id="f1b" style="left:509.4px;top:296.3px;color:#1c2840;font-family:'DejaVu Sans','Liberation Sans',sans-serif;font-size:28.7px;line-height:1.3;letter-spacing:0.63px;-webkit-text-stroke:1.3px currentColor;transform:scaleX(1.05);transform-origin:0 0;">100 / 40</span>
  <span class="abs" id="f1e" style="left:647.1px;top:296.3px;color:#1c2840;font-family:'DejaVu Sans','Liberation Sans',sans-serif;font-size:28.7px;line-height:1.3;letter-spacing:0.00px;-webkit-text-stroke:0.5px currentColor;transform:scaleX(0.84);transform-origin:0 0;">=</span>
  <span class="abs" id="f1c" style="left:675.4px;top:296.3px;color:#1c2840;font-family:'DejaVu Sans','Liberation Sans',sans-serif;font-size:28.7px;line-height:1.3;letter-spacing:0.06px;-webkit-text-stroke:0.5px currentColor;">Porcentaje de logro</span>
</p>
<p class="ln">
  <span class="abs" id="f2" style="left:489.1px;top:339.5px;color:#1c2840;font-family:'DejaVu Sans','Liberation Sans',sans-serif;font-size:28.7px;line-height:1.3;letter-spacing:2.20px;-webkit-text-stroke:1.3px currentColor;transform:scaleX(1.05);transform-origin:0 0;">40</span>
</p>
<p class="ln">
  <span class="abs" id="b1a" style="left:64.1px;top:404.4px;color:#1c2840;font-family:'DejaVu Sans','Liberation Sans',sans-serif;font-size:29px;line-height:1.3;letter-spacing:-0.11px;-webkit-text-stroke:0.5px currentColor;">El porcentaje de logro</span>
  <span class="abs" id="b1b" style="left:388.0px;top:404.4px;color:#1c2840;font-family:'DejaVu Sans','Liberation Sans',sans-serif;font-size:29px;line-height:1.3;letter-spacing:-0.16px;-webkit-text-stroke:1.3px currentColor;transform:scaleX(1.05);transform-origin:0 0;">óptimo</span>
  <span class="abs" id="b1c" style="left:501.5px;top:404.4px;color:#1c2840;font-family:'DejaVu Sans','Liberation Sans',sans-serif;font-size:29px;line-height:1.3;letter-spacing:0.38px;-webkit-text-stroke:0.5px currentColor;">es el</span>
  <span class="abs" id="b1d" style="left:577.0px;top:404.4px;color:#1c2840;font-family:'DejaVu Sans','Liberation Sans',sans-serif;font-size:29px;line-height:1.3;letter-spacing:0.75px;-webkit-text-stroke:1.3px currentColor;transform:scaleX(1.05);transform-origin:0 0;">100 %</span>
</p>
<p class="ln">
  <span class="abs" id="b2a" style="left:64.1px;top:461.5px;color:#1c2840;font-family:'DejaVu Sans','Liberation Sans',sans-serif;font-size:29px;line-height:1.3;letter-spacing:-0.24px;-webkit-text-stroke:0.5px currentColor;">Se acepta como apropiado el</span>
  <span class="abs" id="b2b" style="left:486.8px;top:461.5px;color:#c8893d;font-family:'DejaVu Sans','Liberation Sans',sans-serif;font-size:29px;line-height:1.3;letter-spacing:-0.29px;-webkit-text-stroke:1.3px currentColor;transform:scaleX(1.05);transform-origin:0 0;">90% de logro</span>
  <span class="abs" id="b2c" style="left:685.5px;top:461.5px;color:#1c2840;font-family:'DejaVu Sans','Liberation Sans',sans-serif;font-size:29px;line-height:1.3;letter-spacing:0.02px;-webkit-text-stroke:0.5px currentColor;">, desde</span>
  <span class="abs" id="b2d" style="left:798.6px;top:461.5px;color:#1c2840;font-family:'DejaVu Sans','Liberation Sans',sans-serif;font-size:29px;line-height:1.3;letter-spacing:0.00px;-webkit-text-stroke:1.3px currentColor;transform:scaleX(1.05);transform-origin:0 0;">5</span>
  <span class="abs" id="b2e" style="left:825.8px;top:461.5px;color:#1c2840;font-family:'DejaVu Sans','Liberation Sans',sans-serif;font-size:29px;line-height:1.3;letter-spacing:0.00px;-webkit-text-stroke:0.5px currentColor;">a</span>
  <span class="abs" id="b2f" style="left:850.3px;top:461.5px;color:#1c2840;font-family:'DejaVu Sans','Liberation Sans',sans-serif;font-size:29px;line-height:1.3;letter-spacing:-0.14px;-webkit-text-stroke:1.3px currentColor;transform:scaleX(1.05);transform-origin:0 0;">8 años</span>
</p>
<h2 class="ln">
  <span class="abs" id="tha" style="left:78.6px;top:786.0px;color:#ffffff;font-family:'DejaVu Sans','Liberation Sans',sans-serif;font-size:28.5px;line-height:1.3;text-shadow:0 0 2.5px rgba(25,70,115,.55);letter-spacing:-0.31px;-webkit-text-stroke:0.5px currentColor;">Se permite una</span>
  <span class="abs" id="thb" style="left:298.4px;top:786.0px;color:#ffffff;font-family:'DejaVu Sans','Liberation Sans',sans-serif;font-size:28.5px;line-height:1.3;text-shadow:0 0 2.5px rgba(25,70,115,.55);letter-spacing:-0.14px;-webkit-text-stroke:1.7px currentColor;transform:scaleX(1.05);transform-origin:0 0;">cantidad máxima de errores según la edad:</span>
</h2>
<p class="ln">
  <span class="abs" id="r1" style="left:320.9px;top:853.3px;color:#232f48;font-family:'DejaVu Sans','Liberation Sans',sans-serif;font-size:31px;line-height:1.3;letter-spacing:-0.42px;-webkit-text-stroke:0.7px currentColor;transform:scaleX(1.17);transform-origin:0 0;">5 años <span style="display:inline-block;transform:scaleX(.68);margin:0 -4.5px">=</span> 6 errores</span>
</p>
<p class="ln">
  <span class="abs" id="r2" style="left:320.9px;top:916.2px;color:#232f48;font-family:'DejaVu Sans','Liberation Sans',sans-serif;font-size:31px;line-height:1.3;letter-spacing:-0.37px;-webkit-text-stroke:0.7px currentColor;transform:scaleX(1.17);transform-origin:0 0;">6 años <span style="display:inline-block;transform:scaleX(.68);margin:0 -4.5px">=</span> 5 errores</span>
</p>
<p class="ln">
  <span class="abs" id="r3" style="left:319.5px;top:980.2px;color:#232f48;font-family:'DejaVu Sans','Liberation Sans',sans-serif;font-size:31px;line-height:1.3;letter-spacing:-0.38px;-webkit-text-stroke:0.7px currentColor;transform:scaleX(1.17);transform-origin:0 0;">7 años <span style="display:inline-block;transform:scaleX(.68);margin:0 -4.5px">=</span> 4 errores</span>
</p>
<p class="ln">
  <span class="abs" id="r4" style="left:320.5px;top:1043.9px;color:#232f48;font-family:'DejaVu Sans','Liberation Sans',sans-serif;font-size:31px;line-height:1.3;letter-spacing:-0.45px;-webkit-text-stroke:0.7px currentColor;transform:scaleX(1.17);transform-origin:0 0;">8 años <span style="display:inline-block;transform:scaleX(.68);margin:0 -4.5px">=</span> 3 errores</span>
</p>
<p class="ln">
  <span class="abs" id="n1" style="left:84.4px;top:1162.5px;color:#2a2629;font-family:'DejaVu Sans','Liberation Sans',sans-serif;font-size:29px;line-height:1.3;letter-spacing:0.15px;-webkit-text-stroke:0.5px currentColor;transform:scaleX(1.03);transform-origin:0 0;">Una cantidad de errores mayor a lo establecido por edad</span>
  <span class="abs" id="n2a" style="left:85.4px;top:1203.8px;color:#2a2629;font-family:'DejaVu Sans','Liberation Sans',sans-serif;font-size:29px;line-height:1.3;letter-spacing:-0.09px;-webkit-text-stroke:0.5px currentColor;transform:scaleX(1.03);transform-origin:0 0;">se considera un</span>
  <span class="abs" id="n2b" style="left:328.7px;top:1203.8px;color:#c67d2b;font-family:'DejaVu Sans','Liberation Sans',sans-serif;font-size:29px;line-height:1.3;letter-spacing:-0.04px;-webkit-text-stroke:1.5px currentColor;transform:scaleX(1.05);transform-origin:0 0;">déficit en discriminación auditiva.</span>
</p>
<p class="ln">
  <span class="abs" id="lg1" style="left:415.0px;top:1458.4px;color:#16284a;font-family:'Liberation Serif','DejaVu Serif',serif;font-size:48px;line-height:1.3;font-weight:bold;letter-spacing:1.56px;-webkit-text-stroke:0.5px currentColor;">Dislexia</span>
  <span class="abs" id="lg2" style="left:586.5px;top:1458.4px;color:#16284a;font-family:'Liberation Serif','DejaVu Serif',serif;font-size:48px;line-height:1.3;font-style:italic;letter-spacing:-0.23px;-webkit-text-stroke:0.6px currentColor;transform:scaleX(0.94);transform-origin:0 0;">Tips</span>
</p>
</body>
</html>
